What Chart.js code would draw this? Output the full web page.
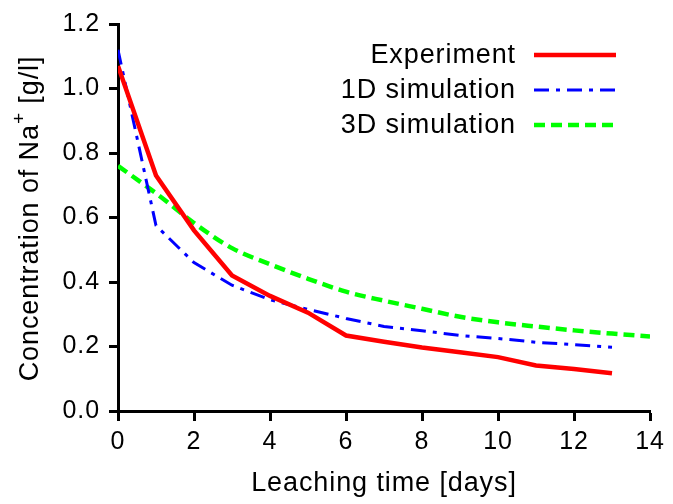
<!DOCTYPE html>
<html>
<head>
<meta charset="utf-8">
<script src="https://cdn.jsdelivr.net/npm/chart.js@4.4.1/dist/chart.umd.min.js"></script>
<style>
  html, body { margin: 0; padding: 0; background: #ffffff; }
  #wrap { width: 673px; height: 504px; }
</style>
</head>
<body>
<div id="wrap"><canvas id="c" width="673" height="504"></canvas></div>
<script>
// ---- data ----
const expDays = [0, 1, 2, 3, 4, 5, 6, 7, 8, 9, 10, 11, 12, 13];
const experiment = [1.07, 0.73, 0.56, 0.42, 0.357, 0.305, 0.234, 0.215, 0.197, 0.182, 0.167, 0.141, 0.13, 0.117];
const sim1Days = [0, 1, 2, 3, 4, 5, 6, 7, 8, 9, 10, 11, 12, 13];
const sim1D = [1.12, 0.575, 0.46, 0.39, 0.345, 0.315, 0.287, 0.262, 0.249, 0.234, 0.225, 0.213, 0.206, 0.198];
const sim3Days = [0, 1, 2, 3, 4, 5, 6, 7, 8, 9, 10, 11, 12, 13, 14];
const sim3D = [0.76, 0.675, 0.583, 0.505, 0.455, 0.41, 0.37, 0.342, 0.317, 0.292, 0.275, 0.262, 0.25, 0.24, 0.231];
const seriesNames = ['Experiment', '1D simulation', '3D simulation'];
const xTickLabels = ['0', '2', '4', '6', '8', '10', '12', '14'];
const yTickLabels = ['0.0', '0.2', '0.4', '0.6', '0.8', '1.0', '1.2'];
const xTitle = 'Leaching time [days]';
const yTitleParts = ['Concentration of Na', '+', ' [g/l]'];

const toXY = (xs, ys) => xs.map((x, i) => ({ x: x, y: ys[i] }));
const FONT = "'Liberation Sans', Arial, Helvetica, sans-serif";
const SPACING = '0.9px';

const spacingPlugin = {
  id: 'spacing',
  beforeDraw(chart) { chart.ctx.letterSpacing = SPACING; }
};

const yTitlePlugin = {
  id: 'yTitle',
  afterDraw(chart) {
    const ctx = chart.ctx;
    const ca = chart.chartArea;
    const big = '27px ' + FONT, small = '19px ' + FONT;
    ctx.save();
    ctx.letterSpacing = SPACING;
    ctx.fillStyle = '#000';
    ctx.textAlign = 'left';
    ctx.textBaseline = 'alphabetic';
    ctx.font = big; const w0 = ctx.measureText(yTitleParts[0]).width;
    ctx.font = small; const w1 = ctx.measureText(yTitleParts[1]).width;
    ctx.font = big; const w2 = ctx.measureText(yTitleParts[2]).width;
    const total = w0 + w1 + w2;
    ctx.translate(38, (ca.top + ca.bottom) / 2 + 1);
    ctx.rotate(-Math.PI / 2);
    let x = -total / 2;
    ctx.font = big; ctx.fillText(yTitleParts[0], x, 0); x += w0;
    ctx.font = small; ctx.fillText(yTitleParts[1], x, -13); x += w1;
    ctx.font = big; ctx.fillText(yTitleParts[2], x, 0);
    ctx.restore();
  }
};

const legendPlugin = {
  id: 'rightLegend',
  afterDatasetsDraw(chart) {
    const ctx = chart.ctx;
    const rows = [55, 90, 125];
    const textRight = 516, lineL = 534, lineR = 616;
    ctx.save();
    ctx.letterSpacing = SPACING;
    ctx.font = '27px ' + FONT;
    ctx.textAlign = 'right';
    ctx.textBaseline = 'middle';
    chart.data.datasets.forEach((ds, i) => {
      const y = rows[i];
      ctx.fillStyle = '#000000';
      ctx.fillText(ds.label, textRight, y + 1);
      ctx.strokeStyle = ds.borderColor;
      ctx.lineWidth = ds.borderWidth;
      ctx.setLineDash(ds.borderDash || []);
      ctx.lineCap = 'butt';
      ctx.beginPath();
      ctx.moveTo(lineL, y);
      ctx.lineTo(lineR, y);
      ctx.stroke();
    });
    ctx.restore();
  }
};

new Chart(document.getElementById('c'), {
  type: 'line',
  data: {
    datasets: [
      { label: seriesNames[0], data: toXY(expDays, experiment), borderColor: '#ff0000', borderWidth: 4.5, tension: 0, pointRadius: 0, fill: false },
      { label: seriesNames[1], data: toXY(sim1Days, sim1D), borderColor: '#0000ff', borderWidth: 3, borderDash: [15, 7, 4, 7], tension: 0, pointRadius: 0, fill: false },
      { label: seriesNames[2], data: toXY(sim3Days, sim3D), borderColor: '#00ff00', borderWidth: 4.5, borderDash: [11, 6], cubicInterpolationMode: 'monotone', pointRadius: 0, fill: false }
    ]
  },
  options: {
    responsive: false,
    animation: false,
    layout: { padding: { left: 0, right: 23, top: 20, bottom: 0 } },
    plugins: { legend: { display: false }, tooltip: { enabled: false } },
    scales: {
      x: {
        type: 'linear', min: 0, max: 14,
        afterFit(s) { s.height = 93; },
        ticks: { stepSize: 2, color: '#000', font: { family: FONT, size: 25 }, padding: 6,
                 callback: (v) => xTickLabels[Math.round(v / 2)] },
        grid: { drawOnChartArea: false, drawTicks: true, tickLength: 10, tickWidth: 3, tickColor: '#000' },
        border: { display: true, color: '#000', width: 3 },
        title: { display: true, text: xTitle, color: '#000', font: { family: FONT, size: 27 }, padding: { top: 0, bottom: 4 } }
      },
      y: {
        type: 'linear', min: 0, max: 1.2,
        afterFit(s) { s.width = 118; },
        ticks: { stepSize: 0.2, color: '#000', font: { family: FONT, size: 25 }, padding: 9,
                 callback: (v) => yTickLabels[Math.round(v / 0.2)] },
        grid: { drawOnChartArea: false, drawTicks: true, tickLength: 9, tickWidth: 3, tickColor: '#000' },
        border: { display: true, color: '#000', width: 3 },
        title: { display: false }
      }
    }
  },
  plugins: [spacingPlugin, yTitlePlugin, legendPlugin]
});
</script>
</body>
</html>
